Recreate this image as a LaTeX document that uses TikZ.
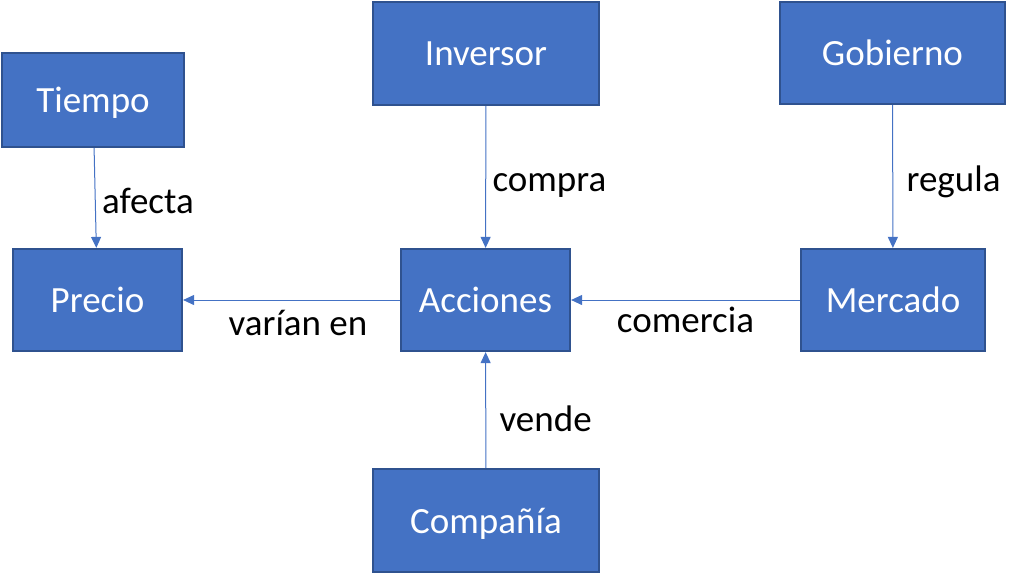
\documentclass[tikz,border=0pt]{standalone}
\usepackage{fontspec}
\setmainfont{Carlito}
\usepackage{tikz}
\usetikzlibrary{arrows.meta,positioning}
\definecolor{boxfill}{HTML}{4472C4}
\definecolor{boxline}{HTML}{2F528F}
\tikzset{
  entity/.style={draw=boxline,fill=boxfill,line width=2.2pt,text=white,inner sep=0pt,
    font=\fontsize{37}{40}\selectfont,text depth=0pt},
  link/.style={draw=boxfill,line width=1pt,-{Triangle[width=10pt,length=11pt]}},
  rel/.style={font=\fontsize{37}{40}\selectfont,text=black}
}
\begin{document}
\begin{tikzpicture}[x=1pt,y=-1pt]
  \useasboundingbox (0,0) rectangle (1026,574);

  % Entities
  \node[entity,minimum width=182pt,minimum height=94pt] (tiempo) at (93,100) {Tiempo};
  \node[entity,minimum width=226pt,minimum height=103pt] (inversor) at (486,53.5) {Inversor};
  \node[entity,minimum width=225pt,minimum height=102pt] (gobierno) at (892.5,53) {Gobierno};
  \node[entity,minimum width=169pt,minimum height=102pt] (precio) at (97.5,300) {Precio};
  \node[entity,minimum width=169pt,minimum height=102pt] (acciones) at (485.5,300) {Acciones};
  \node[entity,minimum width=184pt,minimum height=102pt] (mercado) at (893,300) {Mercado};
  \node[entity,minimum width=226pt,minimum height=103pt] (compania) at (486,520.5) {Compañía};

  % Relations
  \draw[link] (tiempo) -- node[rel,right=3pt,pos=0.53] {afecta} (precio);
  \draw[link] (inversor) -- node[rel,right=3pt,pos=0.56] {compra} (acciones);
  \draw[link] (gobierno) -- node[rel,right=10pt,pos=0.54] {regula} (mercado);
  \draw[link] (acciones) -- node[rel,below=6pt,pos=0.47] {varían en} (precio);
  \draw[link] (mercado) -- node[rel,below=3pt] {comercia} (acciones);
  \draw[link] (compania) -- node[rel,right=10pt,pos=0.42] {vende} (acciones);
\end{tikzpicture}
\end{document}
